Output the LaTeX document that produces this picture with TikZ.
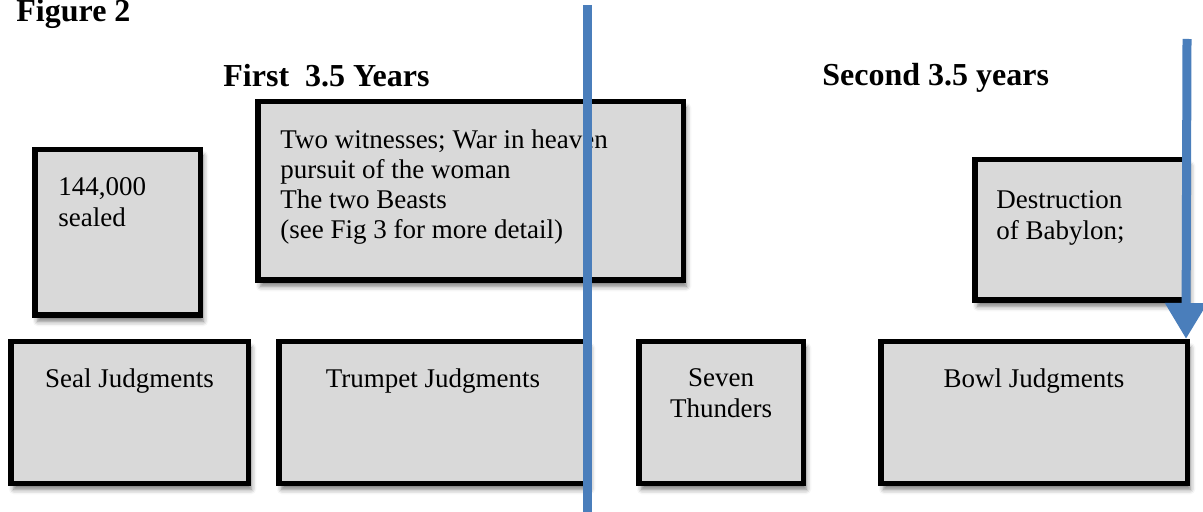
\documentclass[tikz,border=0pt]{standalone}
\usepackage{fontspec}
\setmainfont{Liberation Serif}
\usetikzlibrary{arrows.meta,shadows.blur}
\definecolor{boxgray}{HTML}{D9D9D9}
\definecolor{lineblue}{HTML}{4A7EBB}

\begin{document}
\begin{tikzpicture}[x=.5pt, y=-.5pt,
  box/.style={draw=black, line width=2.75pt, fill=boxgray, inner sep=0pt,
    blur shadow={shadow xshift=1.5pt, shadow yshift=-3pt, shadow blur radius=2.5pt, shadow opacity=55}},
  txt/.style={font=\fontsize{13.5}{15.5}\selectfont, align=left, inner sep=0pt},
  title/.style={font=\fontsize{16}{19}\selectfont\bfseries, inner sep=0pt},
  divider/.style={draw=lineblue, line width=4.5pt}]
\useasboundingbox (0,0) rectangle (1203,512);

% titles
\node[title, anchor=base west] (fig)    at (16,22)  {Figure 2};
\node[title, anchor=base west] (first)  at (223,87) {First \ 3.5 Years};
\node[title, anchor=base west] (second) at (822,86) {Second 3.5 years};

% upper boxes
\node[box, minimum width=82.75pt,  minimum height=82.75pt] (sealed)  at (117.5,232.5) {};
\node[box, minimum width=212.75pt, minimum height=89.25pt] (witness) at (470.5,191)   {};
\node[box, minimum width=106.25pt, minimum height=70.25pt] (babylon) at (1081,230)    {};

% judgments
\node[box, minimum width=118.75pt, minimum height=70.75pt] (seal)     at (129.5,412.5) {};
\node[box, minimum width=154.25pt, minimum height=70.75pt] (trumpet)  at (433,412.5)   {};
\node[box, minimum width=82.25pt,  minimum height=70.75pt] (thunders) at (721,412.5)   {};
\node[box, minimum width=153.25pt, minimum height=70.75pt] (bowl)     at (1034,412.5)  {};

% box texts (base = last line)
\node[txt, anchor=base west] (sealedtxt)  at (58,227)  {144,000\\sealed};
\node[txt, anchor=base west, font=\fontsize{13.5}{15}\selectfont] (witnesstxt) at (280,239) {Two witnesses; War in heaven\\pursuit of the woman\\The two Beasts\\(see Fig 3 for more detail)};
\node[txt, anchor=base west] (babylontxt) at (996,240) {Destruction\\of Babylon;};

\node[txt, anchor=base] (sealtxt)     at (129.5,388) {Seal Judgments};
\node[txt, anchor=base] (trumpettxt)  at (433,388)   {Trumpet Judgments};
\node[txt, anchor=base, align=center] (thunderstxt) at (721,418) {Seven\\Thunders};
\node[txt, anchor=base] (bowltxt)     at (1034,388)  {Bowl Judgments};

% divider and arrow
\coordinate (divtop) at (587.5,5);
\coordinate (divbot) at (587.5,512);
\draw[divider] (divtop) -- (divbot);
\coordinate (arrtop) at (1187,39);
\draw[divider, -{Triangle[length=18pt,width=20pt]}] (arrtop) -- ([xshift=-2pt]bowl.north east);
\end{tikzpicture}
\end{document}
